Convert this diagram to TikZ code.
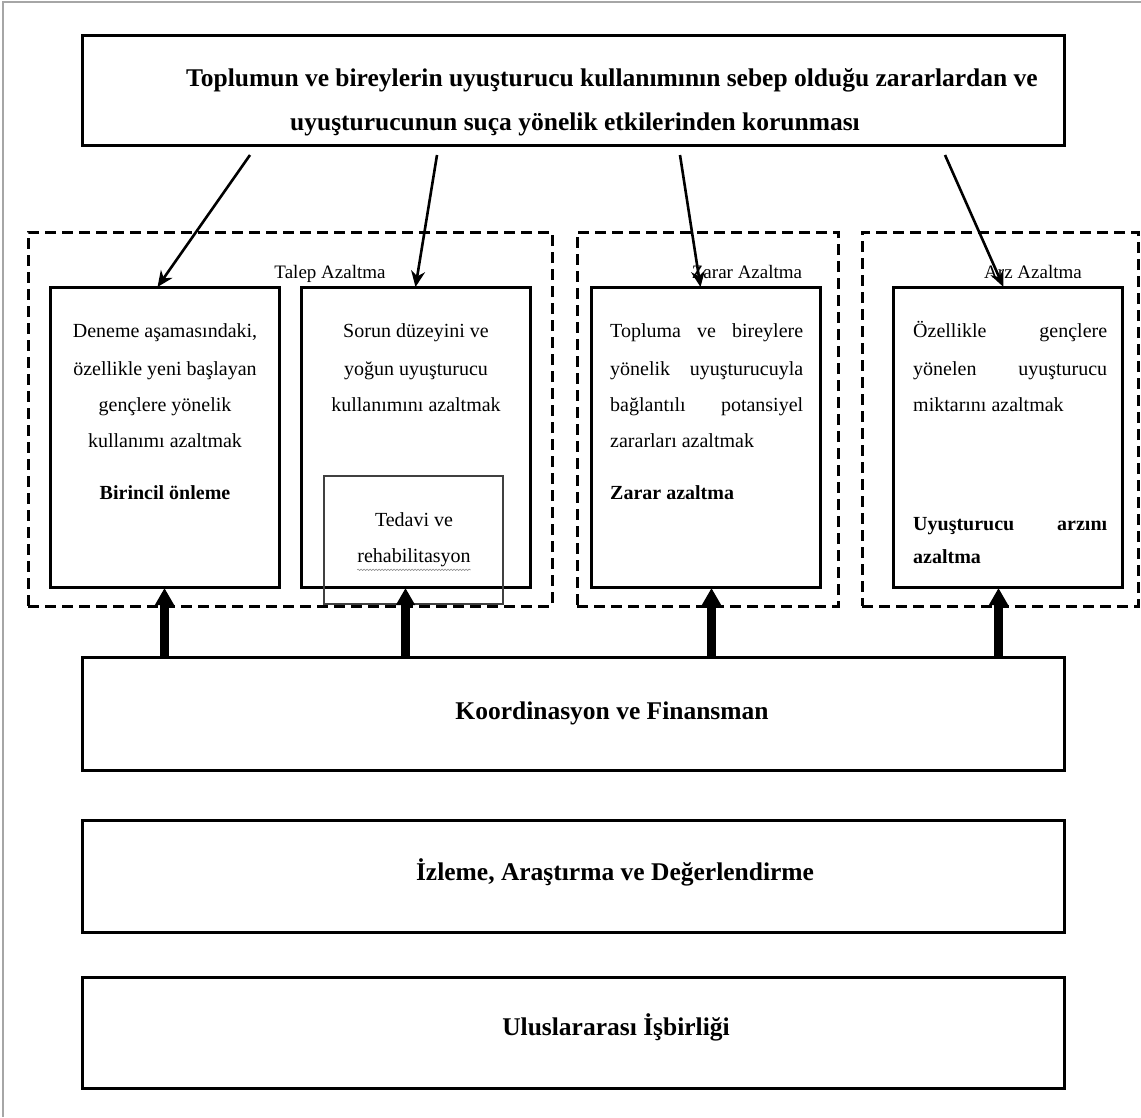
\documentclass[tikz,border=0pt]{standalone}
\usepackage{fontspec}
\setmainfont{Liberation Serif}
\usetikzlibrary{arrows.meta,decorations.pathmorphing}
\begin{document}
\begin{tikzpicture}[x=1pt,y=-1pt,
  solidbox/.style={draw,line width=3pt,inner sep=0pt,outer sep=0pt},
  dashbox/.style={draw,line width=3pt,dash pattern=on 11pt off 6pt,inner sep=0pt,outer sep=0pt},
  subbox/.style={draw=black!75,line width=2pt,inner sep=0pt,outer sep=0pt},
  txt/.style={inner sep=0pt,anchor=mid,font=\fontsize{20}{24}\selectfont},
  txtl/.style={inner sep=0pt,anchor=mid west,font=\fontsize{20}{24}\selectfont},
  boldtxt/.style={font=\fontsize{20}{24}\selectfont\bfseries},
  lbl/.style={inner sep=0pt,anchor=mid,font=\fontsize{19}{22}\selectfont},
  bigtxt/.style={inner sep=0pt,anchor=mid,font=\fontsize{25.5}{30}\selectfont\bfseries},
  thinarrow/.style={line width=2.6pt,-{Stealth[length=16pt,width=14pt]}},
  thickarrow/.style={line width=9pt,-{Triangle[length=17pt,width=18pt]}}]
\useasboundingbox (0,0) rectangle (1141,1117);
\fill[white] (0,0) rectangle (1141,1117);
% page frame
\draw[gray!70,line width=1.5pt] (3,1117) -- (3,2) -- (1141,2);

% top box
\node[solidbox,minimum width=982pt,minimum height=110pt] (top) at (573,90) {};
\node[bigtxt] (topa) at (612,84) {Toplumun ve bireylerin uyuşturucu kullanımının sebep olduğu zararlardan ve};
\node[bigtxt] (topb) at (575,128) {uyuşturucunun suça yönelik etkilerinden korunması};

% dashed groups
\node[dashbox,minimum width=524pt,minimum height=374pt] (talep) at (290,419) {};
\node[dashbox,minimum width=261pt,minimum height=374pt] (zarar) at (707.5,419) {};
\node[dashbox,minimum width=276pt,minimum height=374pt] (arz) at (1000,419) {};
\node[lbl] (talepl) at (330,276) {Talep Azaltma};
\node[lbl] (zararl) at (747,276) {Zarar Azaltma};
\node[lbl] (arzl) at (1033,276) {Arz Azaltma};

% inner boxes
\node[solidbox,fill=white,minimum width=229pt,minimum height=300pt] (b1) at (164.5,437) {};
\node[solidbox,fill=white,minimum width=229pt,minimum height=300pt] (b2) at (415.5,437) {};
\node[solidbox,fill=white,minimum width=229pt,minimum height=300pt] (b3) at (705.5,437) {};
\node[solidbox,fill=white,minimum width=229pt,minimum height=300pt] (b4) at (1007.5,437) {};
\node[subbox,minimum width=179pt,minimum height=128pt] (ted) at (413.5,540) {};

% box 1 text
\node[txt] (b1a) at (165,335) {Deneme aşamasındaki,};
\node[txt] (b1b) at (165,373) {özellikle yeni başlayan};
\node[txt] (b1c) at (165,409) {gençlere yönelik};
\node[txt] (b1d) at (165,445) {kullanımı azaltmak};
\node[txt,boldtxt] (b1e) at (165,497) {Birincil önleme};

% box 2 text
\node[txt] (b2a) at (416,335) {Sorun düzeyini ve};
\node[txt] (b2b) at (416,373) {yoğun uyuşturucu};
\node[txt] (b2c) at (416,409) {kullanımını azaltmak};
\node[txt] (teda) at (414,524) {Tedavi ve};
\node[txt] (tedb) at (414,560) {rehabilitasyon};
\draw[black!45,line width=0.6pt,decorate,decoration={snake,amplitude=0.7pt,segment length=3pt}]
  ([yshift=-3pt]tedb.south west) -- ([yshift=-3pt]tedb.south east);

% box 3 text
\node[txtl] (b3a) at (610,335) {\makebox[193pt][s]{Topluma ve bireylere}};
\node[txtl] (b3b) at (610,373) {\makebox[193pt][s]{yönelik uyuşturucuyla}};
\node[txtl] (b3c) at (610,409) {\makebox[193pt][s]{bağlantılı potansiyel}};
\node[txtl] (b3d) at (610,445) {zararları azaltmak};
\node[txtl,boldtxt] (b3e) at (610,497) {Zarar azaltma};

% box 4 text
\node[txtl] (b4a) at (913,335) {\makebox[194pt][s]{Özellikle gençlere}};
\node[txtl] (b4b) at (913,373) {\makebox[194pt][s]{yönelen uyuşturucu}};
\node[txtl] (b4c) at (913,409) {miktarını azaltmak};
\node[txtl,boldtxt] (b4d) at (913,528) {\makebox[194pt][s]{Uyuşturucu arzını}};
\node[txtl,boldtxt] (b4e) at (913,561) {azaltma};

% bottom boxes
\node[solidbox,minimum width=982pt,minimum height=113pt] (koord) at (573,713.5) {};
\node[bigtxt] (koordt) at (612,717) {Koordinasyon ve Finansman};
\node[solidbox,minimum width=982pt,minimum height=112pt] (izle) at (573,876) {};
\node[bigtxt] (izlet) at (615,878) {İzleme, Araştırma ve Değerlendirme};
\node[solidbox,minimum width=982pt,minimum height=111pt] (ulus) at (573,1032.5) {};
\node[bigtxt] (ulust) at (616,1033) {Uluslararası İşbirliği};

% thin arrows from top
\coordinate (s1) at (250,155);
\coordinate (s2) at (437,155);
\coordinate (s3) at (680,155);
\coordinate (s4) at (945,155);
\draw[thinarrow] (s1) -- ([xshift=-7pt]b1.north);
\draw[thinarrow] (s2) -- (b2.north);
\draw[thinarrow] (s3) -- ([xshift=-5pt]b3.north);
\draw[thinarrow] (s4) -- ([xshift=-4pt]b4.north);

% thick arrows from Koordinasyon
\draw[thickarrow] (koord.north -| b1.south) -- ([yshift=-1pt]b1.south);
\draw[thickarrow] ([xshift=-10pt]koord.north -| b2.south) -- ([xshift=-10pt,yshift=-1pt]b2.south);
\draw[thickarrow] ([xshift=6pt]koord.north -| b3.south) -- ([xshift=6pt,yshift=-1pt]b3.south);
\draw[thickarrow] ([xshift=-9pt]koord.north -| b4.south) -- ([xshift=-9pt,yshift=-1pt]b4.south);
\end{tikzpicture}
\end{document}
